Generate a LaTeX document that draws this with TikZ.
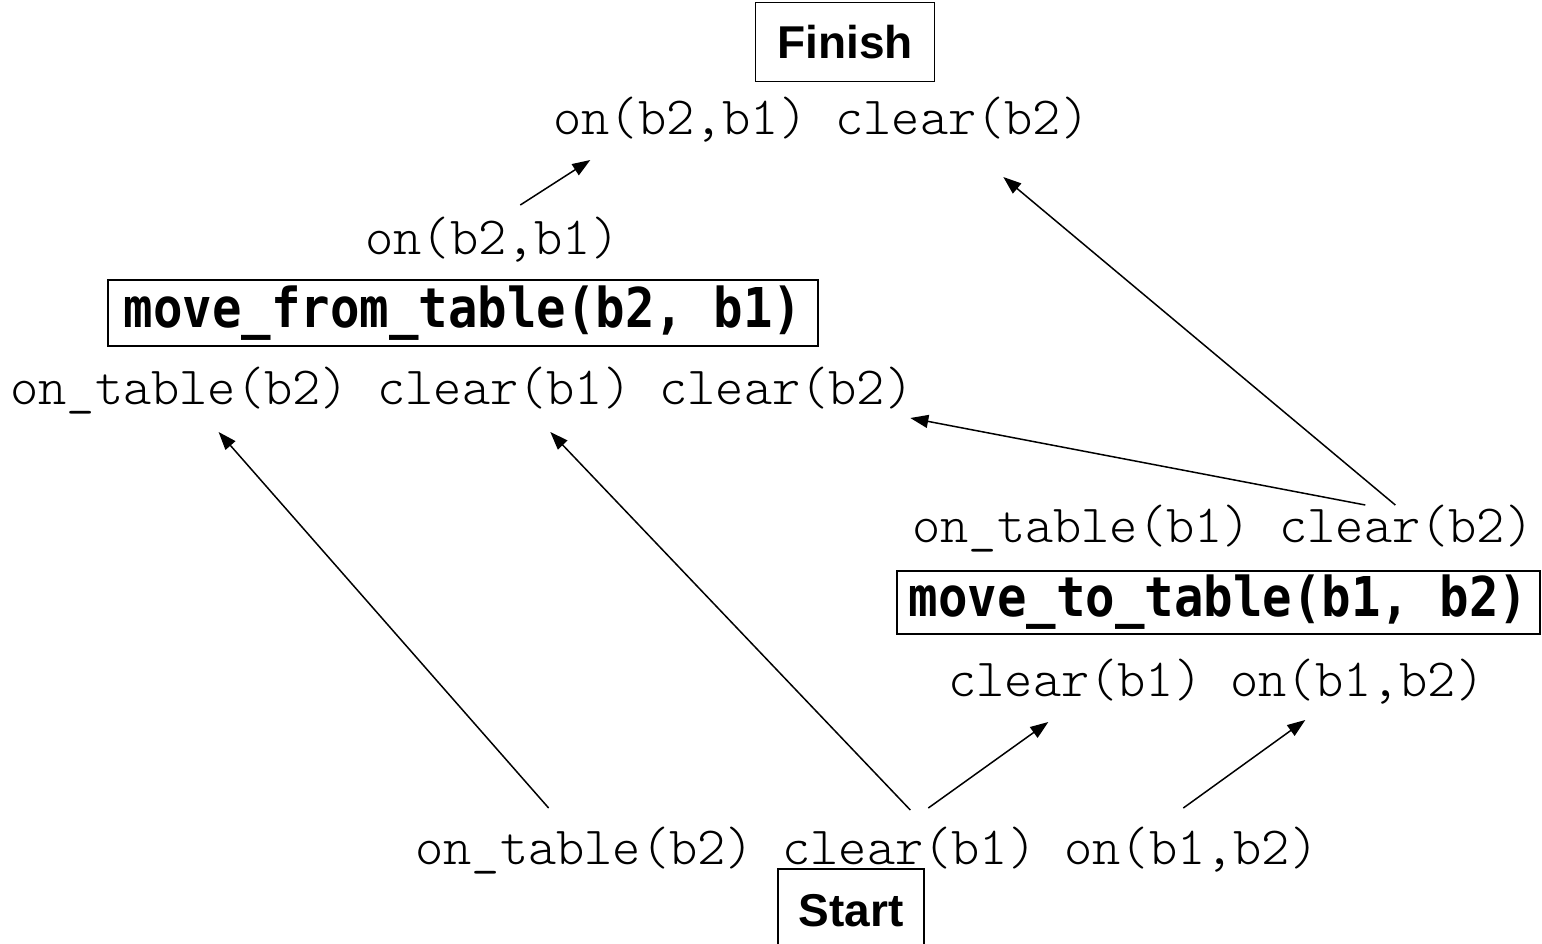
\documentclass[tikz,border=0pt]{standalone}
\usepackage{fontspec}
\newfontfamily\litfont{Latin Modern Mono Light}
\newfontfamily\stepfont{DejaVu Sans Mono}
\newfontfamily\endfont{Liberation Sans}
\usetikzlibrary{arrows.meta,calc}

\tikzset{
  lit/.style={inner sep=0pt, anchor=base west, font=\litfont\fontsize{26.86}{30}\selectfont},
  stepbox/.style={draw, line width=0.75pt, inner sep=0pt,
    font=\stepfont\bfseries\fontsize{24.5}{29}\selectfont},
  endbox/.style={draw, line width=0.75pt, inner sep=0pt,
    font=\endfont\bfseries\fontsize{23}{27}\selectfont},
  link/.style={line width=0.75pt, -{Triangle[length=9pt,width=6.5pt]}},
}
\newcommand{\steplabel}[1]{\scalebox{1}[1.12]{#1}}

\begin{document}
\begin{tikzpicture}[x=0.5pt,y=-0.5pt]
\useasboundingbox (0,0) rectangle (1542,943);

% goal step
\node[endbox, minimum width=89.5pt, minimum height=39.5pt] (finish) at (845,42) {Finish};
\node[lit] (fa) at (553,134) {on(b2,b1)};
\node[lit] (fb) at (835,134) {clear(b2)};

% move_from_table step
\node[lit] (ma) at (365,254) {on(b2,b1)};
\node[stepbox, minimum width=355pt, minimum height=33pt] (mft) at (463,313) {\steplabel{move\_from\_table(b2, b1)}};
\node[lit] (pa) at (10,404) {on\_table(b2)};
\node[lit] (pb) at (377,404) {clear(b1)};
\node[lit] (pc) at (659,404) {clear(b2)};

% move_to_table step
\node[lit] (ta) at (912,542) {on\_table(b1)};
\node[lit] (tb) at (1279,542) {clear(b2)};
\node[stepbox, minimum width=321.5pt, minimum height=31.5pt] (mtt) at (1218.5,602.5) {\steplabel{move\_to\_table(b1, b2)}};
\node[lit] (qa) at (948,696) {clear(b1)};
\node[lit] (qb) at (1230,696) {on(b1,b2)};

% initial state
\node[lit] (sa) at (415,864) {on\_table(b2)};
\node[lit] (sb) at (782,864) {clear(b1)};
\node[lit] (sc) at (1064,864) {on(b1,b2)};
\node[endbox, minimum width=73pt, minimum height=45pt, text depth=4pt] (start) at (851,914) {Start};

% causal links
\draw[link] ($(ma.base)+(28,-49)$) -- ($(fa.base)+(-90,26)$);
\draw[link] ($(tb.base)+(-11,-37)$) -- ($(fb.base)+(41,43)$);
\draw[link] ($(tb.base)+(-41,-37)$) -- ($(pc.base)+(124,14)$);
\draw[link] ($(sa.base)+(-36,-56)$) -- ($(pa.base)+(39,28)$);
\draw[link] ($(sb.base)+(1,-54)$) -- ($(pb.base)+(46,28)$);
\draw[link] ($(sb.base)+(19,-56)$) -- ($(qa.base)+(-27,26)$);
\draw[link] ($(sc.base)+(-8,-56)$) -- ($(qb.base)+(-52,24)$);
\end{tikzpicture}
\end{document}
